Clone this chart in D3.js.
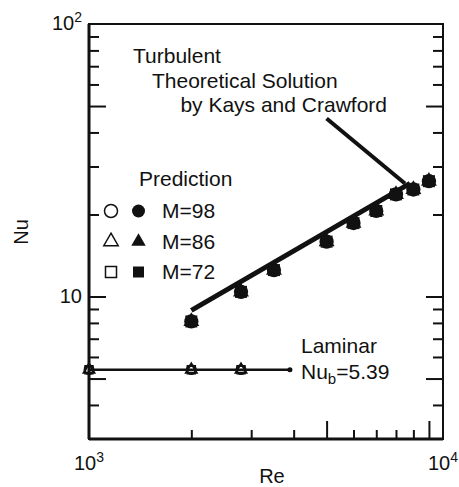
<!DOCTYPE html>
<html>
<head>
<meta charset="utf-8">
<script src="https://cdn.jsdelivr.net/npm/d3@7"></script>
<style>
  body { margin: 0; background: #fff; }
  text { font-family: "Liberation Sans", Arial, sans-serif; fill: #111; }
</style>
</head>
<body>
<div id="chart"></div>
<script>
// data
const reTurb = [2000, 2800, 3500, 5000, 6000, 7000, 8000, 9000, 10000]
const nuM98 = [8.1, 10.4, 12.5, 15.9, 18.6, 20.6, 23.7, 24.7, 26.5]
const nuM86 = [8.1, 10.4, 12.5, 15.9, 18.6, 20.6, 23.7, 24.7, 26.5]
const nuM72 = [8.1, 10.4, 12.5, 15.9, 18.6, 20.6, 23.7, 24.7, 26.5]

const reLam = [1000, 2000, 2800]
const nuLamM98 = [5.39, 5.39, 5.39]
const nuLamM86 = [5.39, 5.39, 5.39]
const nuLamM72 = [5.39, 5.39, 5.39]

// theoretical solutions (Kays and Crawford)
const turbLineRe = [2000, 8800]
const turbLineNu = [8.9, 26.0]
const lamLineRe = [1000, 3900]
const lamLineNu = [5.39, 5.39]
const arrowRe = [5000, 8500]
const arrowNu = [45, 26]

const xMinorTicks = [2000, 3000, 4000, 6000, 7000, 8000, 9000]
const xMajorTicks = [5000, 10000]
const yMinorTicks = [4, 6, 7, 8, 9, 20, 30, 40, 60, 70, 80, 90]
const yMajorTicks = [5, 10, 50]
const xTickLabels = [{ v: 1000, base: '10', exp: '3' }, { v: 11000, base: '10', exp: '4' }]
const yTickLabels = [{ v: 10, base: '10', exp: '' }, { v: 100, base: '10', exp: '2' }]

const W = 459, H = 487
const margin = { top: 24, right: 16, bottom: 48, left: 89 }
const width = W - margin.left - margin.right
const height = H - margin.top - margin.bottom

const x = d3.scaleLog().domain([1000, 11000]).range([0, width])
const y = d3.scaleLog().domain([3, 100]).range([height, 0])

const svg = d3.select('#chart')
  .append('svg')
  .attr('width', W)
  .attr('height', H)
  .append('g')
  .attr('transform', `translate(${margin.left},${margin.top})`)

// ticks pointing inward
function ticks(axis, vals, size, tr) {
  const g = svg.append('g')
    .attr('transform', tr)
    .call(axis.tickValues(vals).tickSize(size).tickFormat(''))
  g.select('.domain').remove()
  g.selectAll('line').attr('stroke', '#111').attr('stroke-width', 2)
}
ticks(d3.axisBottom(x), xMinorTicks, -9, `translate(0,${height})`)
ticks(d3.axisBottom(x), xMajorTicks, -18, `translate(0,${height})`)
ticks(d3.axisLeft(y), yMinorTicks, -10, 'translate(0,0)')
ticks(d3.axisLeft(y), yMajorTicks, -17, 'translate(0,0)')
ticks(d3.axisRight(y), yMinorTicks, -10, `translate(${width},0)`)
ticks(d3.axisRight(y), yMajorTicks, -17, `translate(${width},0)`)

// frame
svg.append('rect')
  .attr('width', width).attr('height', height)
  .attr('fill', 'none').attr('stroke', '#111').attr('stroke-width', 2)
svg.append('line').attr('x1', 0).attr('x2', 0).attr('y1', 0).attr('y2', height)
  .attr('stroke', '#111').attr('stroke-width', 3)
svg.append('line').attr('x1', 0).attr('x2', width).attr('y1', height).attr('y2', height)
  .attr('stroke', '#111').attr('stroke-width', 3)

// tick labels
function powLabel(t, d) {
  t.append('tspan').text(d.base)
  if (d.exp) t.append('tspan').attr('dy', -8).attr('font-size', 14).text(d.exp)
}
xTickLabels.forEach(d => {
  const t = svg.append('text')
    .attr('x', x(d.v)).attr('y', height + 31)
    .attr('text-anchor', 'middle').attr('font-size', 20)
  powLabel(t, d)
})
yTickLabels.forEach(d => {
  const t = svg.append('text')
    .attr('x', -7).attr('y', y(d.v) + 6)
    .attr('text-anchor', 'end').attr('font-size', 20)
  powLabel(t, d)
})

// axis titles
svg.append('text')
  .attr('x', x(Math.sqrt(1000 * 10000)) + 13).attr('y', height + 44)
  .attr('text-anchor', 'middle').attr('font-size', 20).text('Re')
svg.append('text')
  .attr('transform', `translate(${28 - margin.left},${208}) rotate(-90)`)
  .attr('text-anchor', 'middle').attr('font-size', 20).text('Nu')

const line = d3.line().x(d => x(d[0])).y(d => y(d[1]))

// turbulent theoretical line
svg.append('path')
  .attr('d', line(d3.zip(turbLineRe, turbLineNu)))
  .attr('stroke', '#111').attr('stroke-width', 5).attr('fill', 'none')

// laminar line
svg.append('path')
  .attr('d', line(d3.zip(lamLineRe, lamLineNu)))
  .attr('stroke', '#111').attr('stroke-width', 2.5).attr('fill', 'none')
svg.append('path')
  .attr('d', d3.symbol().type(d3.symbolCircle).size(20)())
  .attr('transform', `translate(${x(lamLineRe[1])},${y(lamLineNu[1])})`)
  .attr('fill', '#111')

// arrow from label
svg.append('path')
  .attr('d', line(d3.zip(arrowRe, arrowNu)))
  .attr('stroke', '#111').attr('stroke-width', 4).attr('fill', 'none')

const shapes = [
  { name: 'M=98', type: d3.symbolCircle, turb: nuM98, lam: nuLamM98, size: 160, lsize: 62 },
  { name: 'M=86', type: d3.symbolTriangle, turb: nuM86, lam: nuLamM86, size: 110, lsize: 50 },
  { name: 'M=72', type: d3.symbolSquare, turb: nuM72, lam: nuLamM72, size: 144, lsize: 56 }
]

shapes.forEach(s => {
  svg.selectAll(null)
    .data(d3.zip(reTurb, s.turb))
    .enter()
    .append('path')
    .attr('d', d3.symbol().type(s.type).size(s.size)())
    .attr('transform', d => `translate(${x(d[0])},${y(d[1])})`)
    .attr('fill', '#111')
  svg.selectAll(null)
    .data(d3.zip(reLam, s.lam))
    .enter()
    .append('path')
    .attr('d', d3.symbol().type(s.type).size(s.lsize)())
    .attr('transform', d => `translate(${x(d[0])},${y(d[1])})`)
    .attr('fill', 'none').attr('stroke', '#111').attr('stroke-width', 2)
})

// legend
const lg = svg.append('g').attr('transform', `translate(${-margin.left},${-margin.top})`)
lg.append('text').attr('x', 139).attr('y', 186).attr('font-size', 21).text('Prediction')
const legendSizes = [133, 90, 121]
shapes.forEach((s, i) => {
  const cy = 211 + i * 30.5
  lg.append('path')
    .attr('d', d3.symbol().type(s.type).size(legendSizes[i])())
    .attr('transform', `translate(111,${cy})`)
    .attr('fill', 'none').attr('stroke', '#111').attr('stroke-width', 1.5)
  lg.append('path')
    .attr('d', d3.symbol().type(s.type).size(legendSizes[i])())
    .attr('transform', `translate(138.5,${cy})`)
    .attr('fill', '#111')
  lg.append('text').attr('x', 162).attr('y', cy + 7).attr('font-size', 21).text(s.name)
})

// annotations
const an = svg.append('g').attr('transform', `translate(${-margin.left},${-margin.top})`)
an.append('text').attr('x', 133).attr('y', 63).attr('font-size', 21).text('Turbulent')
an.append('text').attr('x', 152).attr('y', 87.5).attr('font-size', 21).text('Theoretical Solution')
an.append('text').attr('x', 387).attr('y', 112).attr('text-anchor', 'end').attr('font-size', 21).text('by Kays and Crawford')
an.append('text').attr('x', 301).attr('y', 353).attr('font-size', 21).text('Laminar')
const nb = an.append('text').attr('x', 301).attr('y', 379).attr('font-size', 21)
nb.append('tspan').text('Nu')
nb.append('tspan').attr('font-size', 15).attr('dy', 5).text('b')
nb.append('tspan').attr('dy', -5).text('=5.39')
</script>
</body>
</html>
